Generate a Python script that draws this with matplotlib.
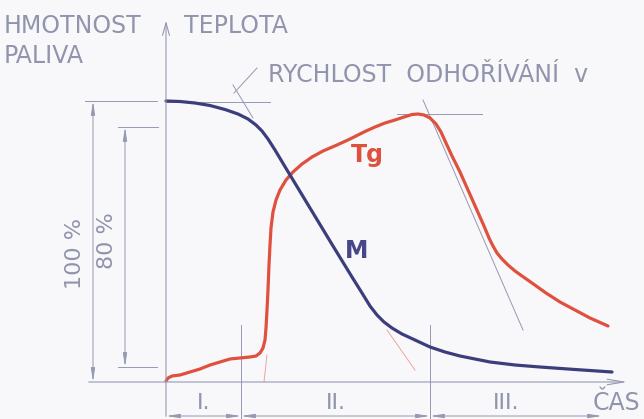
import matplotlib.pyplot as plt

# diagram drawn in pixel-like units (x right, y down)
m_x = [166, 180, 195, 210, 225, 238, 248, 256, 262, 268, 275, 287, 310, 333, 352, 362, 370, 377, 384, 392, 402, 415,
       430, 445, 460, 475, 490, 515, 540, 575, 612]
m_y = [101, 101.5, 103, 105.5, 109.5, 114, 119, 125, 131, 139, 150, 170, 208, 246, 277, 293, 306, 315, 322, 328, 334, 340,
       347, 352, 356, 359, 362, 365, 367, 369.5, 372]

tg_x = [166, 168, 172, 180, 190, 200, 210, 220, 230, 240, 250, 256, 260, 263, 265, 266, 267, 268, 269, 270, 271, 273,
        276, 280, 286, 293, 302, 312, 323, 337, 350, 358, 366, 375, 385, 395, 404, 412, 418, 424, 430, 436, 441, 446,
        452, 460, 468, 476, 484, 489, 493, 497, 502, 508, 515, 522, 532, 546, 560, 575, 590, 608]
tg_y = [381, 378, 376, 375, 372, 369, 365, 362, 359, 358, 357, 356, 353, 348, 340, 328, 310, 290, 265, 245, 228, 212,
        200, 190, 180, 172, 164, 157, 151, 145, 139, 135, 131, 127, 123, 120, 117, 114.5, 114, 115, 118, 124, 132, 143,
        156, 172, 190, 208, 226, 238, 246, 253, 259, 265, 271, 276, 283, 293, 302, 310, 318, 326]

phase_x = [166, 241, 430, 602]
phase_labels = ['I.', 'II.', 'III.']

grey = '#9599b2'
txt = '#9094ac'
navy = '#3c3e7c'
red = '#e0503f'

plt.rcParams['font.family'] = ['DejaVu Sans']

fig = plt.figure(figsize=(6.44, 4.19), dpi=100, facecolor='#f8f8fa')
ax = fig.add_axes([0, 0, 1, 1])
ax.set_xlim(0, 644)
ax.set_ylim(419, 0)
ax.axis('off')

# axes
ax.annotate('', xy=(166, 18), xytext=(166, 419),
            arrowprops=dict(arrowstyle='->,head_length=0.9,head_width=0.25', color=grey, lw=0.8))
ax.annotate('', xy=(630, 382), xytext=(86, 382),
            arrowprops=dict(arrowstyle='->,head_length=1.2,head_width=0.2', color=grey, lw=0.8))

# extension lines
ax.plot([85, 157], [101, 101], color=grey, lw=0.7)
ax.plot([166, 270], [102, 102], color=grey, lw=0.7)
ax.plot([118, 158], [127, 127], color=grey, lw=0.7)
ax.plot([118, 157], [367, 367], color=grey, lw=0.7)

# dimension lines 100 % and 80 %
dim = dict(arrowstyle='<|-|>,head_length=0.8,head_width=0.12', color=grey, lw=0.7, shrinkA=0, shrinkB=0)
ax.annotate('', xy=(93, 101), xytext=(93, 382), arrowprops=dim)
ax.annotate('', xy=(125, 127), xytext=(125, 367), arrowprops=dim)
ax.text(75, 253, '100 %', rotation=90, ha='center', va='center', color=txt, fontsize=16)
ax.text(107, 241, '80 %', rotation=90, ha='center', va='center', color=txt, fontsize=16)

# tangent / leader lines
ax.plot([233, 253], [85, 118], color=grey, lw=0.7)
ax.plot([257, 234], [68, 93], color=grey, lw=0.7)
ax.plot([397, 482], [114, 114], color=grey, lw=0.7)
ax.plot([423, 523], [100, 330], color=grey, lw=0.7)
ax.plot([267, 264], [355, 382], color='#eca59c', lw=0.7)
ax.plot([387, 415], [330, 370], color='#eca59c', lw=0.7)

# phase markers
for px in phase_x[1:3]:
    ax.plot([px, px], [325, 419], color=grey, lw=0.7)
for i, lab in enumerate(phase_labels):
    ax.annotate('', xy=(phase_x[i], 416), xytext=(phase_x[i + 1], 416), arrowprops=dim)
    ax.text((phase_x[i] + phase_x[i + 1]) / 2 - (10 if i == 2 else 0), 409, lab, ha='center', va='baseline',
            color=txt, fontsize=16)

# curves
ax.plot(tg_x, tg_y, color=red, lw=2.3, solid_joinstyle='round', solid_capstyle='round')
ax.plot(m_x, m_y, color=navy, lw=2.3, solid_joinstyle='round', solid_capstyle='round')

# texts
ax.text(4, 33, 'HMOTNOST', color=txt, fontsize=17, va='baseline')
ax.text(184, 33, 'TEPLOTA', color=txt, fontsize=17, va='baseline')
ax.text(4, 63, 'PALIVA', color=txt, fontsize=17, va='baseline')
ax.text(268, 82, 'RYCHLOST  ODHOŘÍVÁNÍ  v', color=txt, fontsize=17, va='baseline')
ax.text(593, 410, 'ČAS', color=txt, fontsize=17, va='baseline')
ax.text(367, 155, 'Tg', color=red, fontsize=17, fontweight='bold', ha='center', va='center')
ax.text(357, 251, 'M', color='#45478a', fontsize=17, fontweight='bold', ha='center', va='center')

fig.savefig('out.png', dpi=100, facecolor=fig.get_facecolor())
